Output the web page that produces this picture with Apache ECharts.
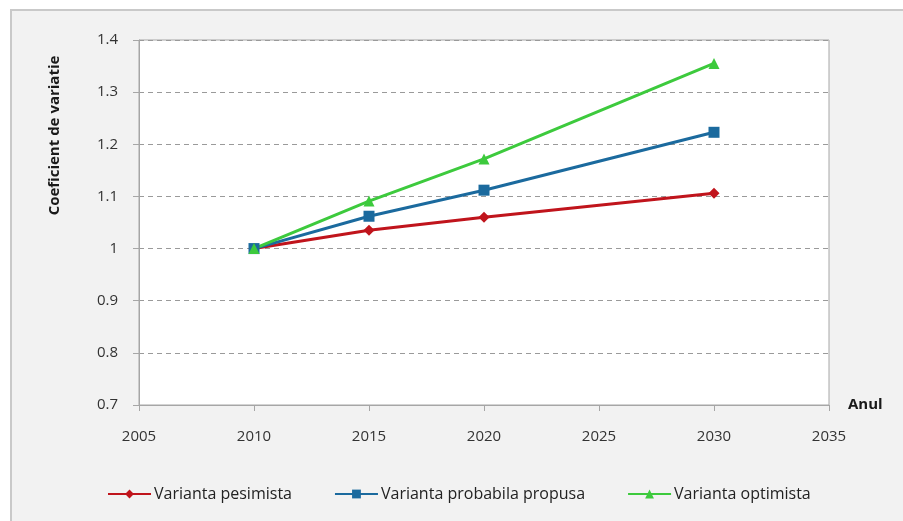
<!DOCTYPE html>
<html>
<head>
<meta charset="utf-8">
<script src="https://cdn.jsdelivr.net/npm/echarts@6/dist/echarts.min.js"></script>
<style>
  html, body { margin: 0; padding: 0; background: #ffffff; }
  #chart { width: 903px; height: 521px; }
</style>
</head>
<body>
<div id="chart"></div>
<script>
const years = [2010, 2015, 2020, 2030];
const pesimista = [1.0, 1.035, 1.06, 1.106];
const probabila = [1.0, 1.062, 1.112, 1.223];
const optimista = [1.0, 1.091, 1.172, 1.355];
const seriesNames = ['Varianta pesimista', 'Varianta probabila propusa', 'Varianta optimista'];

const FONT = '"Open Sans", "Noto Sans", sans-serif';

function pairs(values) {
  return years.map((y, i) => [y, values[i]]);
}

const chart = echarts.init(document.getElementById('chart'), null, { renderer: 'canvas' });

chart.setOption({
  backgroundColor: '#ffffff',
  animation: false,
  textStyle: { fontFamily: FONT },
  graphic: [{
    type: 'rect',
    z: -10,
    shape: { x: 11, y: 10, width: 910, height: 530 },
    style: { fill: '#f2f2f2', stroke: '#c9c9c9', lineWidth: 2 }
  }],
  grid: {
    left: 139, top: 40, right: 74, bottom: 116,
    outerBoundsMode: 'none', containLabel: false,
    show: true, backgroundColor: '#ffffff', borderColor: '#a6a6a6', borderWidth: 1
  },
  xAxis: {
    type: 'value', min: 2005, max: 2035, interval: 5,
    name: 'Anul', nameLocation: 'end', nameGap: 19,
    nameTextStyle: { fontFamily: FONT, fontSize: 15, fontWeight: 'bold', color: '#1a1a1a', verticalAlign: 'middle' },
    axisLine: { show: true, lineStyle: { color: '#a6a6a6', width: 1 } },
    axisTick: { show: true, length: 6, lineStyle: { color: '#a6a6a6' } },
    axisLabel: { fontFamily: FONT, fontSize: 15, color: '#333333', margin: 24,
      formatter: v => String(v) },
    splitLine: { show: false }
  },
  yAxis: {
    type: 'value', min: 0.7, max: 1.4, interval: 0.1,
    name: 'Coeficient de variatie', nameLocation: 'middle', nameRotate: 90, nameGap: 84,
    nameTextStyle: { fontFamily: FONT, fontSize: 15, fontWeight: 'bold', color: '#1a1a1a',
      verticalAlign: 'middle', padding: [0, 0, 0, 174] },
    axisLine: { show: true, lineStyle: { color: '#a6a6a6', width: 1 } },
    axisTick: { show: true, length: 6, lineStyle: { color: '#a6a6a6' } },
    axisLabel: { fontFamily: FONT, fontSize: 15, color: '#333333', margin: 21,
      formatter: v => String(Math.round(v * 10) / 10) },
    splitLine: { show: true, lineStyle: { color: '#9a9a9a', type: [5, 4], width: 1 } }
  },
  legend: {
    top: 486, left: 107, padding: 0,
    itemGap: 42, itemWidth: 43, itemHeight: 11,
    textStyle: { fontFamily: FONT, fontSize: 16, color: '#222222', padding: [0, 0, 0, -2] },
    data: seriesNames
  },
  series: [
    {
      name: seriesNames[0], type: 'line', data: pairs(pesimista),
      symbol: 'diamond', symbolSize: 11,
      lineStyle: { color: '#c0141c', width: 3 },
      itemStyle: { color: '#c0141c' }
    },
    {
      name: seriesNames[1], type: 'line', data: pairs(probabila),
      symbol: 'rect', symbolSize: 11,
      lineStyle: { color: '#1b6a9e', width: 3 },
      itemStyle: { color: '#1b6a9e' }
    },
    {
      name: seriesNames[2], type: 'line', data: pairs(optimista),
      symbol: 'triangle', symbolSize: 11,
      lineStyle: { color: '#3dca3d', width: 3 },
      itemStyle: { color: '#3dca3d' }
    }
  ]
});
</script>
</body>
</html>
